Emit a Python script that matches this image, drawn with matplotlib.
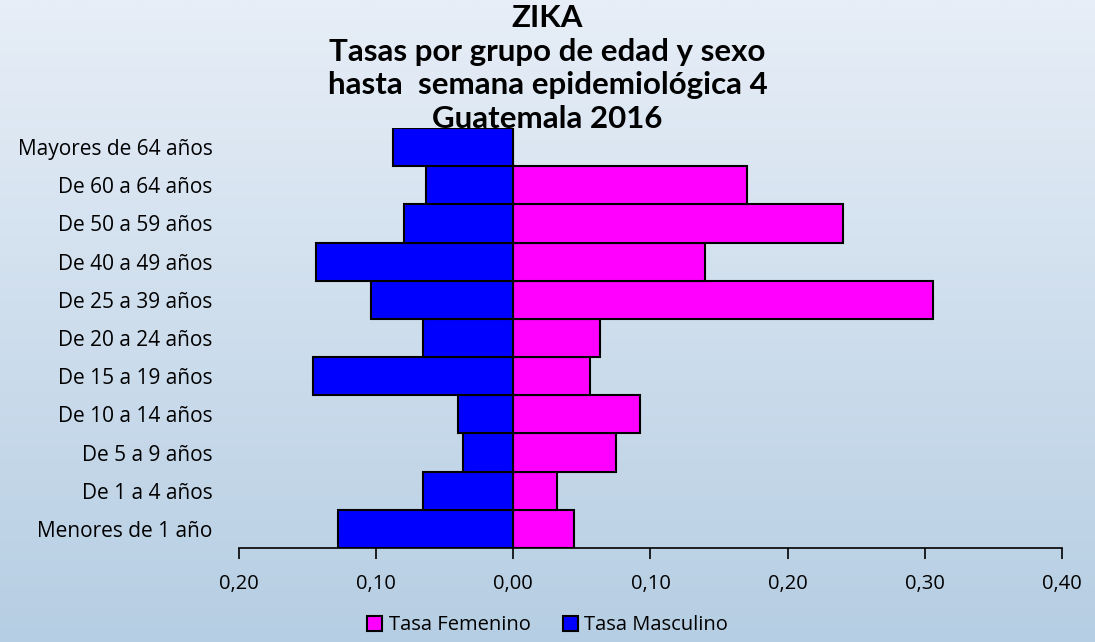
import numpy as np
import matplotlib.pyplot as plt
from matplotlib.colors import LinearSegmentedColormap

# Datos (de abajo hacia arriba)
grupos = ['Menores de 1 año', 'De 1 a 4 años', 'De 5 a 9 años', 'De 10 a 14 años',
          'De 15 a 19 años', 'De 20 a 24 años', 'De 25 a 39 años', 'De 40 a 49 años',
          'De 50 a 59 años', 'De 60 a 64 años', 'Mayores de 64 años']
tasa_masculino = [0.128, 0.066, 0.037, 0.040, 0.146, 0.066, 0.104, 0.144, 0.080, 0.064, 0.088]
tasa_femenino = [0.044, 0.032, 0.075, 0.092, 0.056, 0.063, 0.306, 0.140, 0.240, 0.170, 0.0]
ticks_x = [-0.2, -0.1, 0.0, 0.1, 0.2, 0.3, 0.4]
etiquetas_x = ['0,20', '0,10', '0,00', '0,10', '0,20', '0,30', '0,40']

titulo = 'ZIKA\nTasas por grupo de edad y sexo\nhasta  semana epidemiológica 4\nGuatemala 2016'

W, H = 1095, 642
fig = plt.figure(figsize=(W/100, H/100), dpi=100)

# fondo degradado
bg = fig.add_axes([0, 0, 1, 1], zorder=-10)
cmap = LinearSegmentedColormap.from_list('fondo', ['#b6cee3', '#e7eef7'])
grad = np.linspace(0, 1, 256).reshape(-1, 1)
bg.imshow(grad, aspect='auto', cmap=cmap, origin='lower', extent=[0, 1, 0, 1])
bg.axis('off')

ax = fig.add_axes([239/W, (H-548)/H, (1062-239)/W, (548-128)/H])
ax.patch.set_alpha(0)
y = np.arange(len(grupos))
ax.barh(y, tasa_femenino, height=1, color='#ff00ff', edgecolor='black', lw=1.5,
        label='Tasa Femenino')
ax.barh(y, -np.array(tasa_masculino), height=1, color='#0000ff', edgecolor='black', lw=1.5,
        label='Tasa Masculino')
ax.set_xlim(-0.2, 0.4)
ax.set_ylim(-0.5, 10.5)
ax.set_yticks(y)
ax.set_yticklabels(grupos, fontsize=15, family=['Open Sans', 'DejaVu Sans'])
ax.tick_params(axis='y', length=0, pad=19)
ax.set_xticks(ticks_x)
ax.set_xticklabels(etiquetas_x, fontsize=14.5, family=['Open Sans', 'DejaVu Sans'])
ax.tick_params(axis='x', direction='out', length=8, width=1.2, pad=11)
for s in ['top', 'right', 'left']:
    ax.spines[s].set_visible(False)
ax.spines['bottom'].set_linewidth(1.2)

fig.text(0.5, 0.994, titulo, ha='center', va='top', fontsize=22.5, fontweight='bold',
         family=['Lato', 'DejaVu Sans'], linespacing=1.25)

fig.legend(loc='lower center', bbox_to_anchor=(0.5, -0.018), ncol=2, frameon=False,
           handlelength=0.75, handleheight=0.75, handletextpad=0.3, columnspacing=1.6,
           prop={'family': ['Open Sans', 'DejaVu Sans'], 'size': 14.5})

fig.savefig('out.png', dpi=100)
